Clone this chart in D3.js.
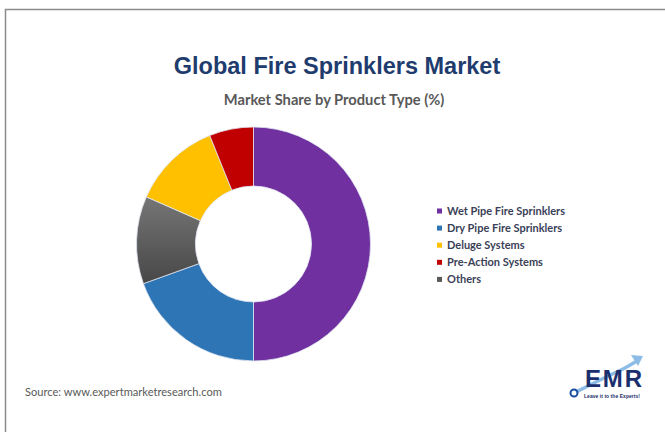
<!DOCTYPE html>
<html>
<head>
<meta charset="utf-8">
<script src="https://cdn.jsdelivr.net/npm/d3@7"></script>
<style>
  html, body { margin: 0; padding: 0; background: #fff; }
  svg { display: block; }
</style>
</head>
<body>
<script>
// ---- data ----
const categories = ["Wet Pipe Fire Sprinklers", "Dry Pipe Fire Sprinklers", "Deluge Systems", "Pre-Action Systems", "Others"];
const shares = [50.0, 19.5, 12.3, 6.1, 12.1];
const sliceColors = ["#7030A0", "#2E75B6", "#FFC000", "#C00000", "#595959"];
// clockwise order of slices in the ring, starting at 12 o'clock
const ringOrder = ["Wet Pipe Fire Sprinklers", "Dry Pipe Fire Sprinklers", "Others", "Deluge Systems", "Pre-Action Systems"];
const titleText = "Global Fire Sprinklers Market";
const subtitleText = "Market Share by Product Type (%)";
const sourceText = "Source: www.expertmarketresearch.com";

const W = 665, H = 432;
const svg = d3.select("body").append("svg").attr("width", W).attr("height", H);

// frame (top + left lines)
svg.append("line").attr("x1", 5).attr("y1", 9.5).attr("x2", W).attr("y2", 9.5)
  .attr("stroke", "#8c8c8c").attr("stroke-width", 1.5);
svg.append("line").attr("x1", 5.5).attr("y1", 9).attr("x2", 5.5).attr("y2", H)
  .attr("stroke", "#8c8c8c").attr("stroke-width", 1.5);

// titles
svg.append("text").attr("x", 337).attr("y", 74).attr("text-anchor", "middle")
  .attr("font-family", "Liberation Sans, Arial, sans-serif").attr("font-weight", "bold")
  .attr("font-size", 23.5).attr("fill", "#1F3C6E").text(titleText);
svg.append("text").attr("x", 334).attr("y", 105).attr("text-anchor", "middle")
  .attr("font-family", "Lato, sans-serif").attr("font-weight", "bold")
  .attr("font-size", 14.7).attr("fill", "#595959").text(subtitleText);

// donut
const cx = 253.5, cy = 244, rOuter = 117, rInner = 58;
const defs = svg.append("defs");
const grad = defs.append("linearGradient").attr("id", "grayGrad")
  .attr("x1", 0).attr("y1", 0).attr("x2", 0).attr("y2", 1);
grad.append("stop").attr("offset", "0%").attr("stop-color", "#767676");
grad.append("stop").attr("offset", "100%").attr("stop-color", "#474747");

const color = d3.scaleOrdinal().domain(categories).range(sliceColors);
const ringData = ringOrder.map(c => ({ cat: c, value: shares[categories.indexOf(c)] }));
const pie = d3.pie().sort(null).value(d => d.value);
const arc = d3.arc().innerRadius(rInner).outerRadius(rOuter);

const g = svg.append("g").attr("transform", `translate(${cx},${cy})`);
g.selectAll("path").data(pie(ringData)).join("path")
  .attr("d", arc)
  .attr("fill", d => d.data.cat === "Others" ? "url(#grayGrad)" : color(d.data.cat))
  .attr("stroke", "#dfe6f0").attr("stroke-width", 0.8);

// legend
const legend = svg.append("g").attr("transform", "translate(437,211)");
const rowH = 17.1;
const items = legend.selectAll("g").data(categories).join("g")
  .attr("transform", (d, i) => `translate(0,${i * rowH})`);
items.append("rect").attr("x", 0).attr("y", -2.5).attr("width", 5).attr("height", 5)
  .attr("fill", d => d === "Others" ? "#595959" : color(d));
items.append("text").attr("x", 10).attr("y", 4)
  .attr("font-family", "Lato, sans-serif").attr("font-weight", "bold")
  .attr("font-size", 11).attr("fill", "#3b3f58").text(d => d);

// source
svg.append("text").attr("x", 25).attr("y", 396)
  .attr("font-family", "Lato, sans-serif").attr("font-size", 11.1)
  .attr("fill", "#595959").text(sourceText);

// EMR logo
const logo = svg.append("g");
logo.append("path").attr("d", "M576,392 L600,380 L625,368 L637,361")
  .attr("fill", "none").attr("stroke", "#8dbde6").attr("stroke-width", 3.5);
logo.append("path").attr("d", "M631,355 L643,356 L638,366 Z").attr("fill", "#8dbde6");
logo.append("text").attr("x", 585).attr("y", 387)
  .attr("font-family", "Liberation Sans, Arial, sans-serif").attr("font-weight", "bold")
  .attr("font-size", 24).attr("fill", "#1b2f6e").attr("textLength", 57).text("EMR");
logo.append("circle").attr("cx", 574).attr("cy", 393).attr("r", 3.5)
  .attr("fill", "none").attr("stroke", "#1b4f9e").attr("stroke-width", 2);
logo.append("text").attr("x", 584).attr("y", 397.5)
  .attr("font-family", "Liberation Sans, Arial, sans-serif").attr("font-weight", "bold")
  .attr("font-size", 5).attr("fill", "#1b2f6e").attr("textLength", 56).text("Leave it to the Experts!");
</script>
</body>
</html>
